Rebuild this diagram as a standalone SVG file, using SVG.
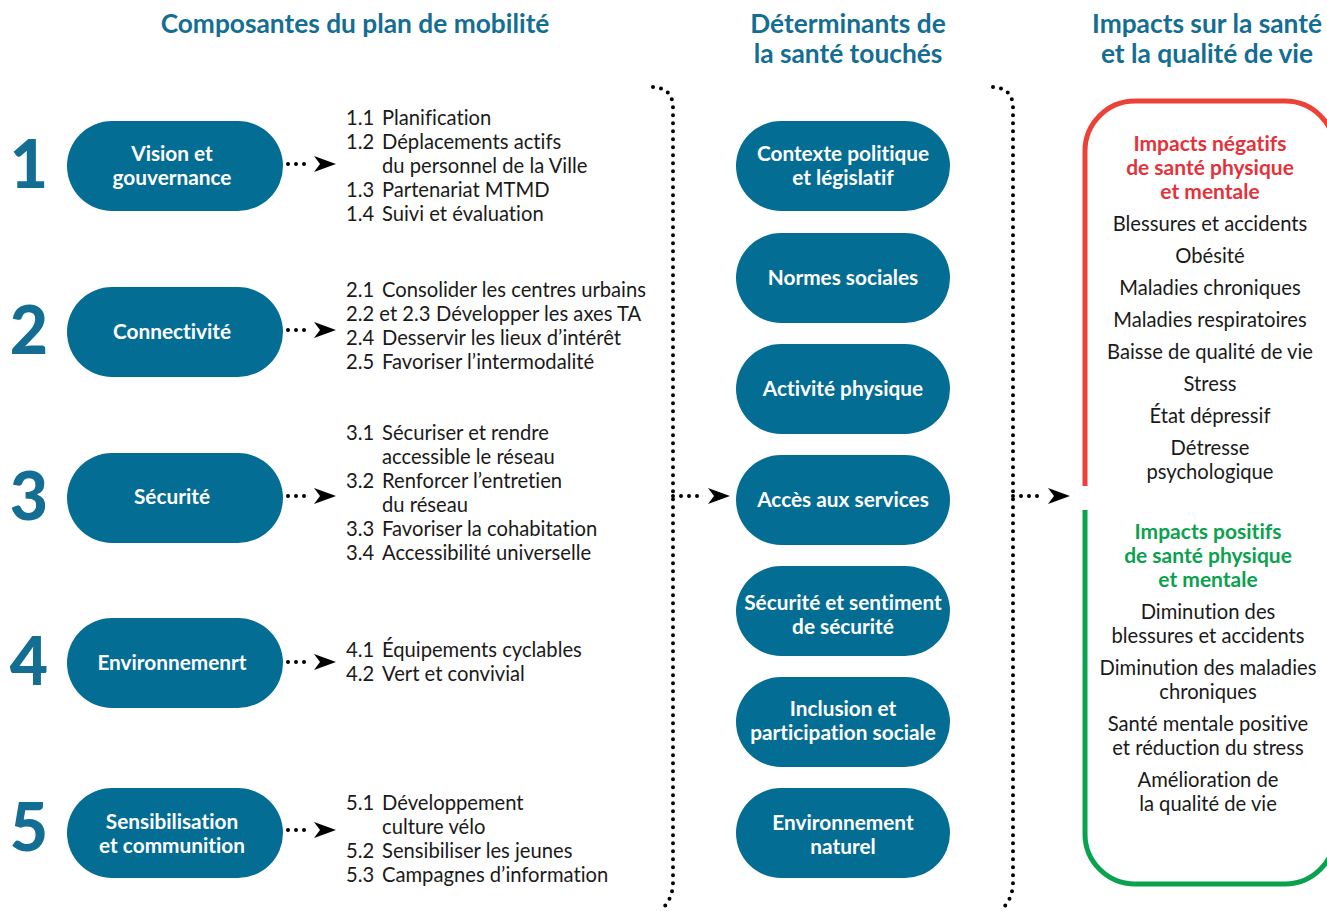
<svg xmlns="http://www.w3.org/2000/svg" width="1327" height="911" viewBox="0 0 1327 911">
<defs>
<style>
text{font-variant-ligatures:none}
.hd{font-family:Lato,"Liberation Sans",sans-serif;font-weight:700;font-size:26.3px;fill:#146d92;text-anchor:middle}
.num{font-family:Lato,"Liberation Sans",sans-serif;font-weight:900;font-size:66px;fill:#146d92;text-anchor:middle}
.pill{fill:#046d94}
.pt{font-family:Lato,"Liberation Sans",sans-serif;font-weight:700;font-size:20.8px;fill:#fff;text-anchor:middle}
.li{font-family:Lato,"Liberation Sans",sans-serif;font-size:20.2px;fill:#1a1a1a}
.rt{font-family:Lato,"Liberation Sans",sans-serif;font-size:20.2px;fill:#1a1a1a;text-anchor:middle}
.neg{font-family:Lato,"Liberation Sans",sans-serif;font-weight:700;font-size:21px;fill:#e5323a;text-anchor:middle}
.pos{font-family:Lato,"Liberation Sans",sans-serif;font-weight:700;font-size:21px;fill:#0ba24f;text-anchor:middle}
.dot{fill:none;stroke:#000;stroke-width:4;stroke-linecap:round;stroke-dasharray:0 8}
.ah{fill:#000}
</style>
</defs>

<g id="headers">
<text class="hd" x="355" y="33">Composantes du plan de mobilité</text>
<text class="hd" x="848" y="33">Déterminants de</text>
<text class="hd" x="848" y="63">la santé touchés</text>
<text class="hd" x="1207" y="33">Impacts sur la santé</text>
<text class="hd" x="1207" y="63">et la qualité de vie</text>
</g>

<g id="component-1">
<text class="num" x="29" y="188">1</text>
<rect class="pill" x="67" y="121" width="216" height="90" rx="45"/>
<text class="pt" x="172" y="161">Vision et</text>
<text class="pt" x="172" y="185">gouvernance</text>
<text class="li" x="346" y="125">1.1<tspan x="382">Planification</tspan></text>
<text class="li" x="346" y="149">1.2<tspan x="382">Déplacements actifs</tspan></text>
<text class="li" x="382" y="173">du personnel de la Ville</text>
<text class="li" x="346" y="197">1.3<tspan x="382">Partenariat MTMD</tspan></text>
<text class="li" x="346" y="221">1.4<tspan x="382">Suivi et évaluation</tspan></text>
</g>

<g id="component-2">
<text class="num" x="29" y="354">2</text>
<rect class="pill" x="67" y="287" width="216" height="90" rx="45"/>
<text class="pt" x="172" y="339">Connectivité</text>
<text class="li" x="346" y="297">2.1<tspan x="382">Consolider les centres urbains</tspan></text>
<text class="li" x="346" y="321">2.2 et 2.3<tspan x="436">Développer les axes TA</tspan></text>
<text class="li" x="346" y="345">2.4<tspan x="382">Desservir les lieux d’intérêt</tspan></text>
<text class="li" x="346" y="369">2.5<tspan x="382">Favoriser l’intermodalité</tspan></text>
</g>

<g id="component-3">
<text class="num" x="29" y="520">3</text>
<rect class="pill" x="67" y="453" width="216" height="90" rx="45"/>
<text class="pt" x="172" y="504">Sécurité</text>
<text class="li" x="346" y="440">3.1<tspan x="382">Sécuriser et rendre</tspan></text>
<text class="li" x="382" y="464">accessible le réseau</text>
<text class="li" x="346" y="488">3.2<tspan x="382">Renforcer l’entretien</tspan></text>
<text class="li" x="382" y="512">du réseau</text>
<text class="li" x="346" y="536">3.3<tspan x="382">Favoriser la cohabitation</tspan></text>
<text class="li" x="346" y="560">3.4<tspan x="382">Accessibilité universelle</tspan></text>
</g>

<g id="component-4">
<text class="num" x="29" y="685">4</text>
<rect class="pill" x="67" y="618" width="216" height="90" rx="45"/>
<text class="pt" x="172" y="670">Environnemenrt</text>
<text class="li" x="346" y="657">4.1<tspan x="382">Équipements cyclables</tspan></text>
<text class="li" x="346" y="681">4.2<tspan x="382">Vert  et convivial</tspan></text>
</g>

<g id="component-5">
<text class="num" x="29" y="851">5</text>
<rect class="pill" x="67" y="788" width="216" height="90" rx="45"/>
<text class="pt" x="172" y="829">Sensibilisation</text>
<text class="pt" x="172" y="853">et communition</text>
<text class="li" x="346" y="810">5.1<tspan x="382">Développement</tspan></text>
<text class="li" x="382" y="834">culture vélo</text>
<text class="li" x="346" y="858">5.2<tspan x="382">Sensibiliser les jeunes</tspan></text>
<text class="li" x="346" y="882">5.3<tspan x="382">Campagnes d’information</tspan></text>
</g>

<g id="det-1"><rect class="pill" x="736" y="121" width="214" height="90" rx="45"/>
<text class="pt" x="843" y="161">Contexte politique</text><text class="pt" x="843" y="185">et législatif</text></g>
<g id="det-2"><rect class="pill" x="736" y="233" width="214" height="90" rx="45"/>
<text class="pt" x="843" y="285">Normes sociales</text></g>
<g id="det-3"><rect class="pill" x="736" y="344" width="214" height="90" rx="45"/>
<text class="pt" x="843" y="396">Activité physique</text></g>
<g id="det-4"><rect class="pill" x="736" y="455" width="214" height="90" rx="45"/>
<text class="pt" x="843" y="507">Accès aux services</text></g>
<g id="det-5"><rect class="pill" x="736" y="566" width="214" height="90" rx="45"/>
<text class="pt" x="843" y="610">Sécurité et sentiment</text><text class="pt" x="843" y="634">de sécurité</text></g>
<g id="det-6"><rect class="pill" x="736" y="677" width="214" height="90" rx="45"/>
<text class="pt" x="843" y="716">Inclusion et</text><text class="pt" x="843" y="740">participation sociale</text></g>
<g id="det-7"><rect class="pill" x="736" y="788" width="214" height="90" rx="45"/>
<text class="pt" x="843" y="830">Environnement</text><text class="pt" x="843" y="854">naturel</text></g>

<g id="impacts">
<path d="M1085,486 L1085,151 A50,50 0 0 1 1135,101 L1285,101 A50,50 0 0 1 1335,151 L1335,486" fill="none" stroke="#ec4137" stroke-width="5"/>
<path d="M1085,510 L1085,834 A50,50 0 0 0 1135,884 L1285,884 A50,50 0 0 0 1335,834 L1335,510" fill="none" stroke="#0aa14f" stroke-width="5"/>
<text class="neg" x="1210" y="151">Impacts négatifs</text>
<text class="neg" x="1210" y="175">de santé physique</text>
<text class="neg" x="1210" y="199">et mentale</text>
<text class="rt" x="1210" y="231">Blessures et accidents</text>
<text class="rt" x="1210" y="263">Obésité</text>
<text class="rt" x="1210" y="295">Maladies chroniques</text>
<text class="rt" x="1210" y="327">Maladies respiratoires</text>
<text class="rt" x="1210" y="359">Baisse de qualité de vie</text>
<text class="rt" x="1210" y="391">Stress</text>
<text class="rt" x="1210" y="423">État dépressif</text>
<text class="rt" x="1210" y="455">Détresse</text>
<text class="rt" x="1210" y="479">psychologique</text>
<text class="pos" x="1208" y="539">Impacts positifs</text>
<text class="pos" x="1208" y="563">de santé physique</text>
<text class="pos" x="1208" y="587">et mentale</text>
<text class="rt" x="1208" y="619">Diminution des</text>
<text class="rt" x="1208" y="643">blessures et accidents</text>
<text class="rt" x="1208" y="675">Diminution des maladies</text>
<text class="rt" x="1208" y="699">chroniques</text>
<text class="rt" x="1208" y="731">Santé mentale positive</text>
<text class="rt" x="1208" y="755">et réduction du stress</text>
<text class="rt" x="1208" y="787">Amélioration de</text>
<text class="rt" x="1208" y="811">la qualité de vie</text>
</g>

<g id="connectors">
<path class="dot" d="M653,87 Q673,88 673,108 L673,882 Q673,900 660,911"/>
<path class="dot" d="M993,87 Q1013,88 1013,108 L1013,882 Q1013,900 1000,911"/>
<path class="dot" d="M288,164 L312,164"/>
<path class="ah" d="M314,156 L336,164 L314,172 L320,164 Z"/>
<path class="dot" d="M288,330 L312,330"/>
<path class="ah" d="M314,322 L336,330 L314,338 L320,330 Z"/>
<path class="dot" d="M288,496 L312,496"/>
<path class="ah" d="M314,488 L336,496 L314,504 L320,496 Z"/>
<path class="dot" d="M288,662 L312,662"/>
<path class="ah" d="M314,654 L336,662 L314,670 L320,662 Z"/>
<path class="dot" d="M288,830 L312,830"/>
<path class="ah" d="M314,822 L336,830 L314,838 L320,830 Z"/>
<path class="dot" d="M673,496 L705,496"/>
<path class="ah" d="M708,488 L730,496 L708,504 L714,496 Z"/>
<path class="dot" d="M1013,496 L1045,496"/>
<path class="ah" d="M1048,488 L1070,496 L1048,504 L1054,496 Z"/>
</g>
</svg>
